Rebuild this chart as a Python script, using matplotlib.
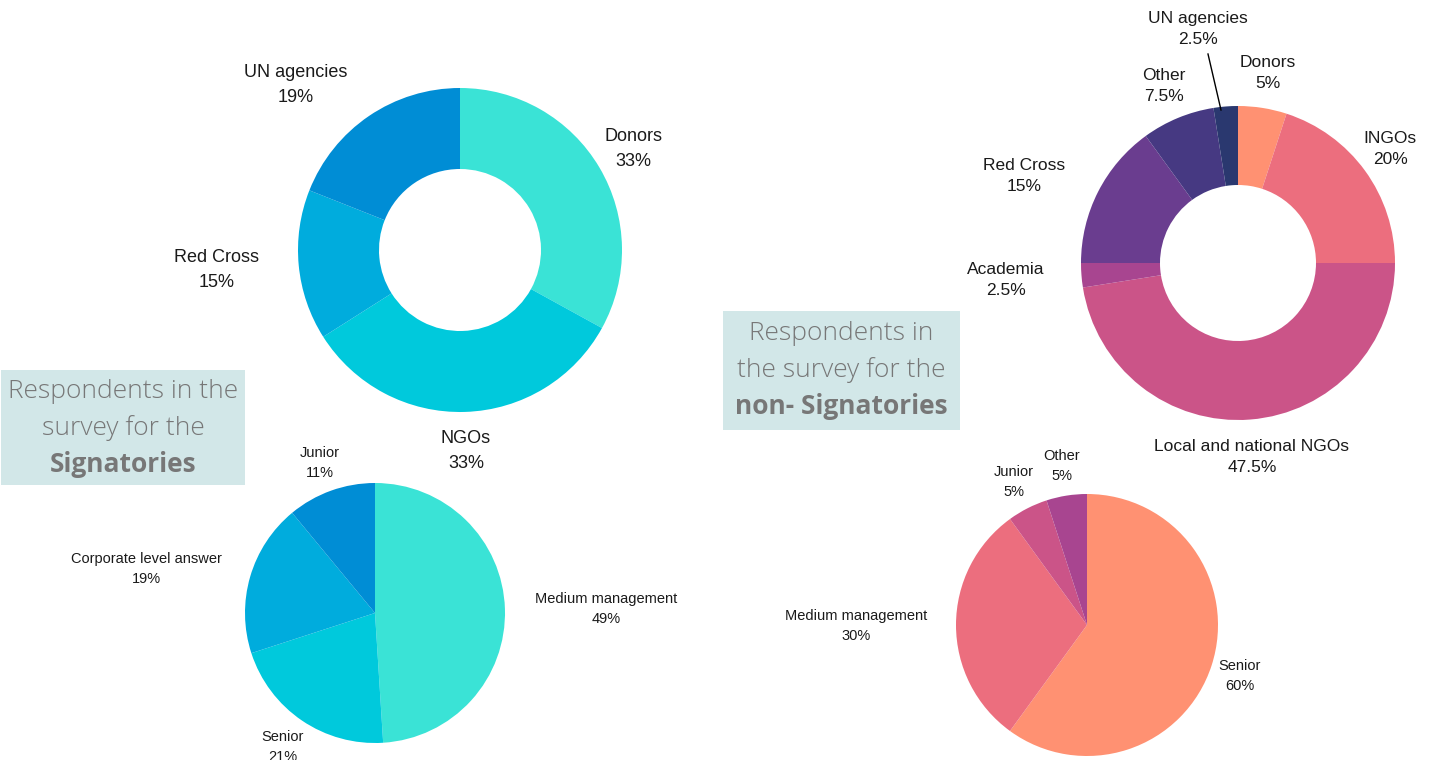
import matplotlib

matplotlib.use("Agg")

import matplotlib.pyplot as plt
from matplotlib.patches import Rectangle

# signatories - organisation type (donut)
sig_org_labels = ["Donors", "NGOs", "Red Cross", "UN agencies"]
sig_org_values = [33, 33, 15, 19]
sig_org_colors = ["#3ae3d6", "#00c9dc", "#00acdd", "#008dd5"]

# non-signatories - organisation type (donut)
non_org_labels = ["Donors", "INGOs", "Local and national NGOs", "Academia",
                  "Red Cross", "Other", "UN agencies"]
non_org_values = [5, 20, 47.5, 2.5, 15, 7.5, 2.5]
non_org_colors = ["#ff9172", "#ec6e7e", "#cb5488", "#a84590",
                  "#6a3d8f", "#463982", "#2a386f"]

# signatories - level (pie)
sig_lvl_labels = ["Medium management", "Senior", "Corporate level answer", "Junior"]
sig_lvl_values = [49, 21, 19, 11]
sig_lvl_colors = ["#3ae3d6", "#00c9dc", "#00acdd", "#008dd5"]

# non-signatories - level (pie)
non_lvl_labels = ["Senior", "Medium management", "Junior", "Other"]
non_lvl_values = [60, 30, 5, 5]
non_lvl_colors = ["#ff9172", "#ec6e7e", "#cb5488", "#a84590"]

W, H = 1441, 760
LABEL_FONT = "Liberation Sans"
BOX_FONT = "Open Sans"
BOX_COLOR = "#d2e7e8"
BOX_TEXT = "#777777"


def px(x, y):
    # pixel coords (top-left origin) -> data coords
    return x, H - y


def draw_pie(ax, values, colors, center, radius, width=None):
    wp = {"linewidth": 0}
    if width is not None:
        wp["width"] = width
    ax.pie(values, colors=colors, startangle=90, counterclock=False,
           center=px(*center), radius=radius, wedgeprops=wp)


def add_labels(ax, labels, values, positions, size, spacing):
    for lab, val, pos in zip(labels, values, positions):
        ax.text(*px(*pos), f"{lab}\n{val:g}%", ha="center", va="center",
                fontsize=size, family=LABEL_FONT, color="#1a1a1a",
                linespacing=spacing)


def add_box(ax, x0, y0, x1, y1, lines, centers):
    ax.add_patch(Rectangle(px(x0, y1), x1 - x0, y1 - y0, color=BOX_COLOR, lw=0))
    cx = (x0 + x1) / 2
    for (txt, bold), cy in zip(lines, centers):
        ax.text(*px(cx, cy), txt, ha="center", va="center", fontsize=19,
                family=BOX_FONT, color=BOX_TEXT,
                fontweight="bold" if bold else 300)


fig = plt.figure(figsize=(W / 100, H / 100), dpi=100)
ax = fig.add_axes([0, 0, 1, 1])

draw_pie(ax, sig_org_values, sig_org_colors, (460, 250), 162, width=81)
add_labels(ax, sig_org_labels, sig_org_values,
           [(633, 149), (466, 451), (217, 270), (296, 85)], 13, 1.55)

draw_pie(ax, non_org_values, non_org_colors, (1238, 263), 157, width=79)
add_labels(ax, non_org_labels, non_org_values,
           [(1268, 73), (1390, 149), (1252, 457), (1006, 280),
            (1024, 176), (1164, 86), (1198, 29)], 12.5, 1.5)
ax.plot(*zip(px(1208, 54), px(1221, 110)), color="black", lw=1)

draw_pie(ax, sig_lvl_values, sig_lvl_colors, (375, 613), 130)
add_labels(ax, sig_lvl_labels, sig_lvl_values,
           [(606, 609), (283, 747), (146, 569), (320, 463)], 10.5, 1.55)

draw_pie(ax, non_lvl_values, non_lvl_colors, (1087, 625), 131)
add_labels(ax, non_lvl_labels, non_lvl_values,
           [(1240, 676), (856, 626), (1014, 482), (1062, 466)], 10.5, 1.55)

add_box(ax, 1, 370, 245, 485,
        [("Respondents in the", False), ("survey for the", False), ("Signatories", True)],
        [392, 428, 464])
add_box(ax, 723, 311, 960, 430,
        [("Respondents in", False), ("the survey for the", False), ("non- Signatories", True)],
        [333, 370, 406])

ax.set_xlim(0, W)
ax.set_ylim(0, H)
ax.set_aspect("equal")
ax.axis("off")

fig.savefig("out.png", dpi=100)
